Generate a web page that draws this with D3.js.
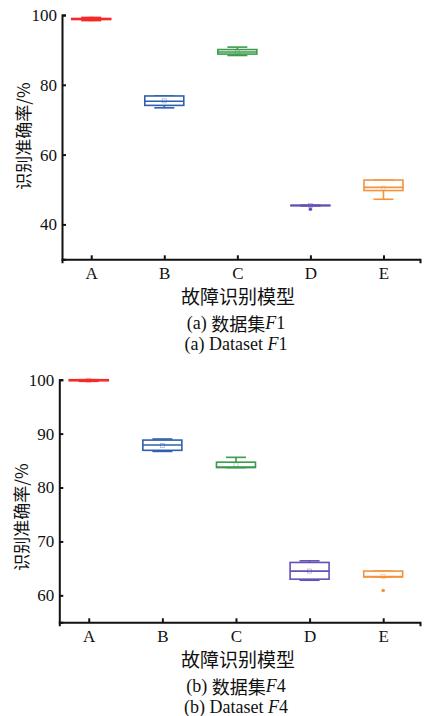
<!DOCTYPE html>
<html>
<head>
<meta charset="utf-8">
<script src="https://cdn.jsdelivr.net/npm/d3@7"></script>
<style>
  body { margin: 0; background: #fff; }
  text { fill: #111; }
</style>
</head>
<body>
<div id="chart-area"></div>
<script>
// dados
const models = ["A", "B", "C", "D", "E"]
const colors = ["#f52a2a", "#2f5fae", "#3c9a4c", "#6650b4", "#f5923c"]

// conjunto F1: [min, q1, mediana, q3, max, media]
const f1Low    = [98.4, 73.4, 88.4, 45.3, 47.2]
const f1Q1     = [98.7, 74.1, 88.8, 45.35, 49.7]
const f1Median = [98.85, 75.3, 89.4, 45.4, 50.6]
const f1Q3     = [99.0, 76.8, 90.1, 45.5, 52.7]
const f1High   = [99.3, 76.8, 90.8, 45.5, 52.7]
const f1Mean   = [98.85, 75.4, 89.4, 45.4, 50.4]
const f1Outliers = [[], [], [], [44.35], []]
const f1Ticks = [40, 60, 80, 100]

// conjunto F4
const f4Low    = [99.7, 86.7, 83.7, 62.8, 63.4]
const f4Q1     = [99.8, 86.9, 83.7, 63.0, 63.4]
const f4Median = [99.9, 87.9, 83.8, 64.5, 63.5]
const f4Q3     = [100, 88.8, 84.7, 66.1, 64.5]
const f4High   = [100, 89.0, 85.6, 66.4, 64.5]
const f4Mean   = [99.9, 87.8, 84.2, 64.5, 63.5]
const f4Outliers = [[], [], [], [], [60.9]]
const f4Ticks = [60, 70, 80, 90, 100]

const svg = d3.select("#chart-area").append("svg")
  .attr("width", 429)
  .attr("height", 716)

const serif = "'Liberation Serif', 'Times New Roman', serif"
const cjk = "'Noto Sans CJK SC', sans-serif"

function painel(cfg) {
  const x = d3.scaleLinear().domain([0.6, 5.5]).range([cfg.left, 420])
  const y = d3.scaleLinear().domain(cfg.yDomain).range([cfg.bottom, cfg.top])

  const stats = models.map((m, i) => ({
    m, i,
    low: cfg.low[i], q1: cfg.q1[i], med: cfg.median[i],
    q3: cfg.q3[i], high: cfg.high[i], mean: cfg.mean[i],
    out: cfg.outliers[i], color: colors[i]
  }))

  const boxW = 39
  const capW = 20

  const g = svg.append("g")

  // caixas
  const box = g.selectAll(".box").data(stats).enter().append("g")
    .attr("class", "box")
    .attr("stroke", d => d.color)
    .attr("stroke-width", 1.6)
    .attr("fill", "none")

  // bigodes
  box.append("line")
    .attr("x1", d => x(d.i + 1)).attr("x2", d => x(d.i + 1))
    .attr("y1", d => y(d.low)).attr("y2", d => y(d.q1))
  box.append("line")
    .attr("x1", d => x(d.i + 1)).attr("x2", d => x(d.i + 1))
    .attr("y1", d => y(d.high)).attr("y2", d => y(d.q3))
  box.append("line")
    .attr("x1", d => x(d.i + 1) - capW / 2).attr("x2", d => x(d.i + 1) + capW / 2)
    .attr("y1", d => y(d.low)).attr("y2", d => y(d.low))
  box.append("line")
    .attr("x1", d => x(d.i + 1) - capW / 2).attr("x2", d => x(d.i + 1) + capW / 2)
    .attr("y1", d => y(d.high)).attr("y2", d => y(d.high))

  box.append("rect")
    .attr("x", d => x(d.i + 1) - boxW / 2)
    .attr("width", boxW)
    .attr("y", d => y(d.q3))
    .attr("height", d => Math.max(y(d.q1) - y(d.q3), 0.5))
    .attr("fill", "#fff")

  // mediana
  box.append("line")
    .attr("x1", d => x(d.i + 1) - boxW / 2).attr("x2", d => x(d.i + 1) + boxW / 2)
    .attr("y1", d => y(d.med)).attr("y2", d => y(d.med))

  // media
  box.append("rect")
    .attr("x", d => x(d.i + 1) - 2)
    .attr("y", d => y(d.mean) - 2)
    .attr("width", 4).attr("height", 4)
    .attr("stroke-width", 0.8)
    .attr("stroke-opacity", 0.45)

  // pontos fora
  box.selectAll("circle").data(d => d.out.map(v => ({ v, i: d.i, color: d.color })))
    .enter().append("circle")
    .attr("cx", d => x(d.i + 1))
    .attr("cy", d => y(d.v))
    .attr("r", 1.8)
    .attr("stroke", "none")
    .attr("fill", d => d.color)

  // eixo y
  const yAxis = g.append("g")
    .attr("transform", `translate(${cfg.left}, 0)`)
    .call(d3.axisLeft(y).tickValues(cfg.ticks).tickSizeInner(-4).tickSizeOuter(-4).tickPadding(5))
  yAxis.selectAll("text").attr("font-family", serif).attr("font-size", "17px").attr("fill", "#111")

  // eixo x
  const xAxis = g.append("g")
    .attr("transform", `translate(0, ${cfg.bottom})`)
    .call(d3.axisBottom(x).tickValues([1, 2, 3, 4, 5]).tickFormat(d => models[d - 1])
      .tickSizeInner(-4).tickSizeOuter(4).tickPadding(8))
  xAxis.selectAll("text").attr("font-family", serif).attr("font-size", "17px").attr("fill", "#111")

  g.selectAll(".domain, .tick line").attr("stroke", "#111").attr("stroke-width", 2)

  // titulo eixo y
  g.append("text")
    .attr("transform", `translate(${cfg.yLabelX}, ${cfg.yLabelY}) rotate(-90)`)
    .attr("text-anchor", "middle")
    .attr("dominant-baseline", "central")
    .attr("font-family", cjk)
    .attr("font-size", "17px")
    .text("识别准确率/%")

  // titulo eixo x
  g.append("text")
    .attr("x", 238).attr("y", cfg.bottom + 36)
    .attr("text-anchor", "middle")
    .attr("dominant-baseline", "central")
    .attr("font-family", cjk)
    .attr("font-size", "19px")
    .text("故障识别模型")

  // legendas
  const cap1 = g.append("text")
    .attr("x", 236).attr("y", cfg.bottom + 64)
    .attr("text-anchor", "middle")
    .attr("dominant-baseline", "central")
    .attr("font-size", "18px")
  cap1.append("tspan").attr("font-family", serif).text(`(${cfg.tag}) `)
  cap1.append("tspan").attr("font-family", cjk).text("数据集")
  cap1.append("tspan").attr("font-family", serif).attr("font-style", "italic").text("F")
  cap1.append("tspan").attr("font-family", serif).text(cfg.num)

  const cap2 = g.append("text")
    .attr("x", 236).attr("y", cfg.bottom + 85)
    .attr("text-anchor", "middle")
    .attr("dominant-baseline", "central")
    .attr("font-family", serif)
    .attr("font-size", "18px")
  cap2.append("tspan").text(`(${cfg.tag}) Dataset `)
  cap2.append("tspan").attr("font-style", "italic").text("F")
  cap2.append("tspan").text(cfg.num)
}

painel({
  left: 62, top: 15, bottom: 259.3, yDomain: [30, 100], ticks: f1Ticks,
  low: f1Low, q1: f1Q1, median: f1Median, q3: f1Q3, high: f1High, mean: f1Mean,
  outliers: f1Outliers, yLabelX: 22, yLabelY: 136, tag: "a", num: "1"
})

painel({
  left: 59.3, top: 379.7, bottom: 622.3, yDomain: [55, 100], ticks: f4Ticks,
  low: f4Low, q1: f4Q1, median: f4Median, q3: f4Q3, high: f4High, mean: f4Mean,
  outliers: f4Outliers, yLabelX: 20, yLabelY: 517, tag: "b", num: "4"
})
</script>
</body>
</html>
